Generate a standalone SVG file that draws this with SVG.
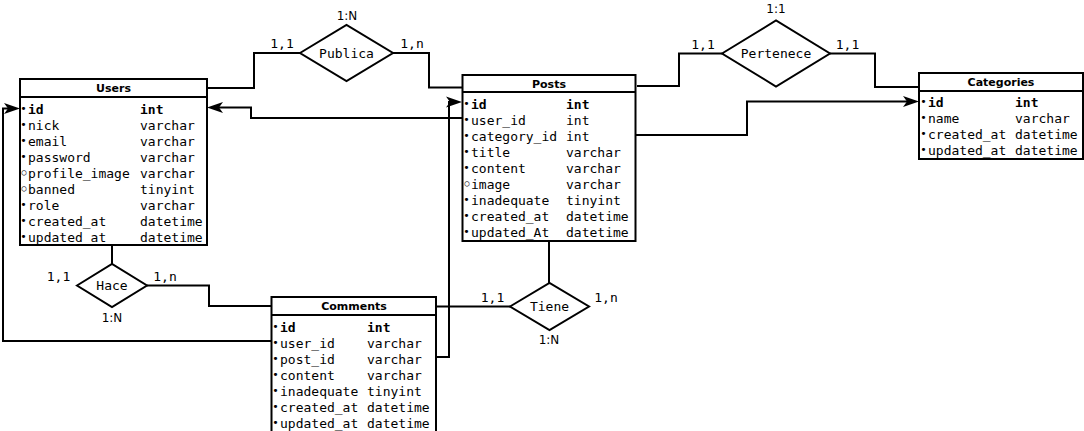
<svg xmlns="http://www.w3.org/2000/svg" width="1084" height="431" viewBox="0 0 1084 431">
<style>
.box{fill:#fff;stroke:#000;stroke-width:2}
.sep{stroke:#000;stroke-width:2}
.hd{font-family:"DejaVu Sans",sans-serif;font-weight:bold;font-size:11px;text-anchor:middle;fill:#000}
.r{font-family:"DejaVu Sans Mono",monospace;font-size:13px;fill:#000}
.b{font-weight:bold}
.bul{font-family:"DejaVu Sans",sans-serif;font-size:11px;text-anchor:middle;fill:#000}
.o{font-size:14px;font-weight:bold}
.dia{fill:#fff;stroke:#000;stroke-width:2}
.dl{font-family:"DejaVu Sans Mono",monospace;font-size:13px;text-anchor:middle;fill:#000}
.card{font-family:"DejaVu Sans Mono",monospace;font-size:13px;text-anchor:middle;fill:#000}
.rat{font-family:"DejaVu Sans",sans-serif;font-size:12px;text-anchor:middle;fill:#000}
.c{fill:none;stroke:#000;stroke-width:2}
</style>
<defs>
<marker id="arr" markerUnits="userSpaceOnUse" markerWidth="16" markerHeight="12" refX="10" refY="6" orient="auto">
<path d="M0,0.5 L16,6 L0,11.5 L4,6 Z" fill="#000"/>
</marker>
</defs>

<g id="connectors">
<path class="c" d="M207,88 H254 V53 H300"/>
<path class="c" d="M393,53 H429 V87.5 H463"/>
<path class="c" d="M462,118 H251 V107.5 H213" marker-end="url(#arr)"/>
<path class="c" d="M436,357 H449 V102 H456" marker-end="url(#arr)"/>
<path class="c" d="M271,341 H3 V108.5 H14" marker-end="url(#arr)"/>
<path class="c" d="M112,228 V264"/>
<path class="c" d="M147,285.5 H209 V306 H271"/>
<path class="c" d="M549,241 V283"/>
<path class="c" d="M436,306.5 H510"/>
<path class="c" d="M637,86 H679 V53.5 H722"/>
<path class="c" d="M830,53.5 H875 V87 H919"/>
<path class="c" d="M636,135 H747 V101.5 H913" marker-end="url(#arr)"/>
</g>

<g id="users">
<rect class="box" x="20" y="79" width="187" height="166"/>
<line class="sep" x1="20" y1="97" x2="207" y2="97"/>
<text class="hd" x="113.5" y="92">Users</text>
<g class="bul"><text x="23.5" y="112">•</text><text x="23.5" y="128">•</text><text x="23.5" y="144">•</text><text x="23.5" y="160">•</text><text class="o" x="24" y="177.5">◦</text><text class="o" x="24" y="193.5">◦</text><text x="23.5" y="208">•</text><text x="23.5" y="224">•</text><text x="23.5" y="240">•</text></g>
<text class="r b" x="28" y="113.5">id</text><text class="r b" x="140" y="113.5">int</text>
<text class="r" x="28" y="129.5">nick</text><text class="r" x="140" y="129.5">varchar</text>
<text class="r" x="28" y="145.5">email</text><text class="r" x="140" y="145.5">varchar</text>
<text class="r" x="28" y="161.5">password</text><text class="r" x="140" y="161.5">varchar</text>
<text class="r" x="28" y="177.5">profile_image</text><text class="r" x="140" y="177.5">varchar</text>
<text class="r" x="28" y="193.5">banned</text><text class="r" x="140" y="193.5">tinyint</text>
<text class="r" x="28" y="209.5">role</text><text class="r" x="140" y="209.5">varchar</text>
<text class="r" x="28" y="225.5">created_at</text><text class="r" x="140" y="225.5">datetime</text>
<text class="r" x="28" y="241.5">updated_at</text><text class="r" x="140" y="241.5">datetime</text>
</g>

<g id="posts">
<rect class="box" x="462.5" y="75" width="173" height="166"/>
<line class="sep" x1="462.5" y1="92" x2="635.5" y2="92"/>
<text class="hd" x="549" y="87.5">Posts</text>
<g class="bul"><text x="466.5" y="107">•</text><text x="466.5" y="123">•</text><text x="466.5" y="139">•</text><text x="466.5" y="155">•</text><text x="466.5" y="171">•</text><text class="o" x="467" y="188.5">◦</text><text x="466.5" y="203">•</text><text x="466.5" y="219">•</text><text x="466.5" y="235">•</text></g>
<text class="r b" x="471" y="108.5">id</text><text class="r b" x="566" y="108.5">int</text>
<text class="r" x="471" y="124.5">user_id</text><text class="r" x="566" y="124.5">int</text>
<text class="r" x="471" y="140.5">category_id</text><text class="r" x="566" y="140.5">int</text>
<text class="r" x="471" y="156.5">title</text><text class="r" x="566" y="156.5">varchar</text>
<text class="r" x="471" y="172.5">content</text><text class="r" x="566" y="172.5">varchar</text>
<text class="r" x="471" y="188.5">image</text><text class="r" x="566" y="188.5">varchar</text>
<text class="r" x="471" y="204.5">inadequate</text><text class="r" x="566" y="204.5">tinyint</text>
<text class="r" x="471" y="220.5">created_at</text><text class="r" x="566" y="220.5">datetime</text>
<text class="r" x="471" y="236.5">updated_At</text><text class="r" x="566" y="236.5">datetime</text>
</g>

<g id="categories">
<rect class="box" x="919" y="73" width="164" height="86"/>
<line class="sep" x1="919" y1="91" x2="1083" y2="91"/>
<text class="hd" x="1001" y="86">Categories</text>
<g class="bul"><text x="923.5" y="105">•</text><text x="923.5" y="121">•</text><text x="923.5" y="137">•</text><text x="923.5" y="153">•</text></g>
<text class="r b" x="928" y="106.5">id</text><text class="r b" x="1015" y="106.5">int</text>
<text class="r" x="928" y="122.5">name</text><text class="r" x="1015" y="122.5">varchar</text>
<text class="r" x="928" y="138.5">created_at</text><text class="r" x="1015" y="138.5">datetime</text>
<text class="r" x="928" y="154.5">updated_at</text><text class="r" x="1015" y="154.5">datetime</text>
</g>

<g id="comments">
<rect class="box" x="271.5" y="297" width="164.5" height="140"/>
<line class="sep" x1="271.5" y1="315" x2="436" y2="315"/>
<text class="hd" x="354" y="310">Comments</text>
<g class="bul"><text x="275.5" y="330">•</text><text x="275.5" y="346">•</text><text x="275.5" y="362">•</text><text x="275.5" y="378">•</text><text x="275.5" y="394">•</text><text x="275.5" y="410">•</text><text x="275.5" y="426">•</text></g>
<text class="r b" x="280" y="331.5">id</text><text class="r b" x="367" y="331.5">int</text>
<text class="r" x="280" y="347.5">user_id</text><text class="r" x="367" y="347.5">varchar</text>
<text class="r" x="280" y="363.5">post_id</text><text class="r" x="367" y="363.5">varchar</text>
<text class="r" x="280" y="379.5">content</text><text class="r" x="367" y="379.5">varchar</text>
<text class="r" x="280" y="395.5">inadequate</text><text class="r" x="367" y="395.5">tinyint</text>
<text class="r" x="280" y="411.5">created_at</text><text class="r" x="367" y="411.5">datetime</text>
<text class="r" x="280" y="427.5">updated_at</text><text class="r" x="367" y="427.5">datetime</text>
</g>

<g id="publica">
<polygon class="dia" points="300,53 346.5,25 393,53 346.5,81"/>
<text class="dl" x="346.5" y="57.5">Publica</text>
<text class="rat" x="347" y="20">1:N</text>
<text class="card" x="282" y="47.5">1,1</text>
<text class="card" x="412" y="47.5">1,n</text>
</g>

<g id="pertenece">
<polygon class="dia" points="722,53.5 776,20.5 830,53.5 776,86.5"/>
<text class="dl" x="776" y="58">Pertenece</text>
<text class="rat" x="776" y="12.5">1:1</text>
<text class="card" x="703" y="48.5">1,1</text>
<text class="card" x="847.5" y="48.5">1,1</text>
</g>

<g id="hace">
<polygon class="dia" points="77,285.5 112,264 147,285.5 112,307"/>
<text class="dl" x="112" y="290">Hace</text>
<text class="rat" x="112" y="322">1:N</text>
<text class="card" x="58.5" y="280.5">1,1</text>
<text class="card" x="165" y="280.5">1,n</text>
</g>

<g id="tiene">
<polygon class="dia" points="510,306.5 549.5,283 589,306.5 549.5,330"/>
<text class="dl" x="549.5" y="311">Tiene</text>
<text class="rat" x="549" y="344">1:N</text>
<text class="card" x="492.5" y="302">1,1</text>
<text class="card" x="606" y="302">1,n</text>
</g>
</svg>
